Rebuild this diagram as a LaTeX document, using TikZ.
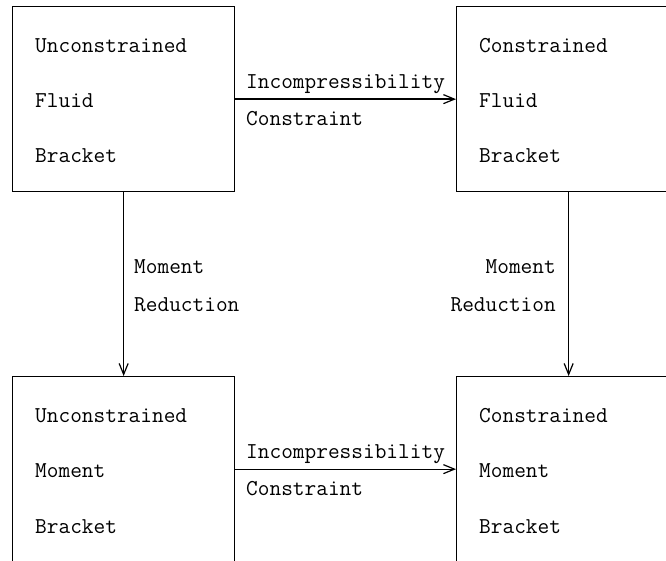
\documentclass[tikz,border=0pt]{standalone}
\usepackage{fontspec}
\usetikzlibrary{arrows.meta}
\tikzset{
  block/.style={draw, line width=1.3pt, rectangle, minimum width=222pt, minimum height=185pt, inner sep=0pt, anchor=north west},
  txt/.style={anchor=base west, inner sep=0pt, font=\ttfamily\fontsize{22.7}{24}\selectfont},
  rtxt/.style={anchor=base east, inner sep=0pt, font=\ttfamily\fontsize{22.7}{24}\selectfont},
  arr/.style={line width=1.3pt, -{Straight Barb[length=11pt, width=9pt, line width=1.2pt]}}
}
\begin{document}
\begin{tikzpicture}[x=1pt, y=-1pt]
  \useasboundingbox (0,0) rectangle (666,561);
  % the four brackets
  \node[block] (tl) at (12,6) {};
  \node[block, minimum width=224pt] (tr) at (456,6) {};
  \node[block] (bl) at (12,376) {};
  \node[block, minimum width=224pt] (br) at (456,376) {};
  % box texts
  \node[txt] (tl1) at (35,53) {Unconstrained};
  \node[txt] (tl2) at (35,108) {Fluid};
  \node[txt] (tl3) at (35,163) {Bracket};
  \node[txt] (tr1) at (479,53) {Constrained};
  \node[txt] (tr2) at (479,108) {Fluid};
  \node[txt] (tr3) at (479,163) {Bracket};
  \node[txt] (bl1) at (35,422) {Unconstrained};
  \node[txt] (bl2) at (35,477) {Moment};
  \node[txt] (bl3) at (35,533) {Bracket};
  \node[txt] (br1) at (479,422) {Constrained};
  \node[txt] (br2) at (479,477) {Moment};
  \node[txt] (br3) at (479,533) {Bracket};
  % connectors
  \draw[arr] (tl.east) -- (tr.west);
  \draw[arr] (bl.east) -- (br.west);
  \draw[arr] (tl.south) -- (bl.north);
  \draw[arr] (tr.south) -- (br.north);
  % connector labels
  \node[txt] (ic1) at (246,89) {Incompressibility};
  \node[txt] (cc1) at (246,126) {Constraint};
  \node[txt] (ic2) at (246,458) {Incompressibility};
  \node[txt] (cc2) at (246,495) {Constraint};
  \node[txt] (mr1) at (134,273) {Moment};
  \node[txt] (rd1) at (134,311) {Reduction};
  \node[rtxt] (mr2) at (556,273) {Moment};
  \node[rtxt] (rd2) at (556,311) {Reduction};
\end{tikzpicture}
\end{document}
